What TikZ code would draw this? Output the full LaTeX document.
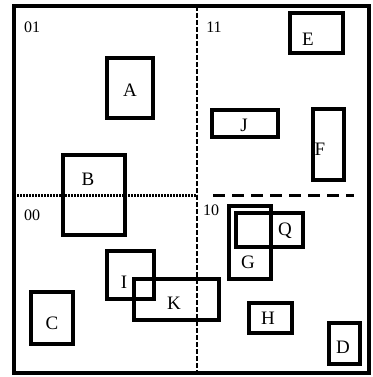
\documentclass[tikz,border=0pt]{standalone}
\usepackage{fontspec}
\setmainfont{Liberation Serif}
\begin{document}
\begin{tikzpicture}[x=1pt,y=-1pt,
  rbox/.style={draw, line width=3.4pt, inner sep=0pt, outer sep=0pt, anchor=north west},
  lbl/.style={font=\fontsize{19}{19}\selectfont, inner sep=0pt},
  reg/.style={font=\fontsize{16}{16}\selectfont, inner sep=0pt},
  divv/.style={line width=2.8pt, dash pattern=on 5pt off 2pt},
  divh/.style={line width=3pt, dash pattern=on 2pt off 1pt},
  divr/.style={line width=3pt, dash pattern=on 12pt off 7pt}]
\useasboundingbox (0,0) rectangle (372,377);
\fill[white] (0,0) rectangle (372,377);
% frame
\node[rbox, minimum width=355pt, minimum height=367pt] (frame) at (14,6) {};
% dividers
\coordinate (vt) at (197,6);
\coordinate (vb) at (197,373);
\coordinate (hl) at (14,195);
\coordinate (hm) at (197,195);
\coordinate (hr1) at (213,195);
\coordinate (hr2) at (354,195);
\draw[divv] (vt) -- (vb);
\draw[divh] (hl) -- (hm);
\draw[divr] (hr1) -- (hr2);
% region labels
\node[reg] (r01) at (32,27) {01};
\node[reg] (r11) at (214,27) {11};
\node[reg] (r00) at (32,215) {00};
\node[reg] (r10) at (211,210) {10};
% boxes
\node[rbox, minimum width=46pt, minimum height=60pt] (A) at (107,58) {};
\node[lbl] (lA) at (130,90) {A};
\node[rbox, minimum width=53pt, minimum height=40pt] (E) at (290,13) {};
\node[lbl] (lE) at (308,39) {E};
\node[rbox, minimum width=66pt, minimum height=27pt] (J) at (212,110) {};
\node[lbl] (lJ) at (244,125) {J};
\node[rbox, minimum width=31pt, minimum height=71pt] (F) at (313,109) {};
\node[lbl] (lF) at (320,149) {F};
\node[rbox, minimum width=62pt, minimum height=80pt] (B) at (63,155) {};
\node[lbl] (lB) at (88,179) {B};
\node[rbox, minimum width=42pt, minimum height=73pt] (G) at (229,206) {};
\node[lbl] (lG) at (248,262) {G};
\node[rbox, minimum width=67pt, minimum height=34pt] (Q) at (236,213) {};
\node[lbl] (lQ) at (285,231) {Q};
\node[rbox, minimum width=47pt, minimum height=48pt] (I) at (107,251) {};
\node[lbl] (lI) at (124,282) {I};
\node[rbox, minimum width=85pt, minimum height=41pt] (K) at (134,279) {};
\node[lbl] (lK) at (174,303) {K};
\node[rbox, minimum width=42pt, minimum height=52pt] (C) at (31,292) {};
\node[lbl] (lC) at (52,323) {C};
\node[rbox, minimum width=43pt, minimum height=30pt] (H) at (249,303) {};
\node[lbl] (lH) at (268,318) {H};
\node[rbox, minimum width=31pt, minimum height=41pt] (D) at (329,323) {};
\node[lbl] (lD) at (343,347) {D};
\end{tikzpicture}
\end{document}
